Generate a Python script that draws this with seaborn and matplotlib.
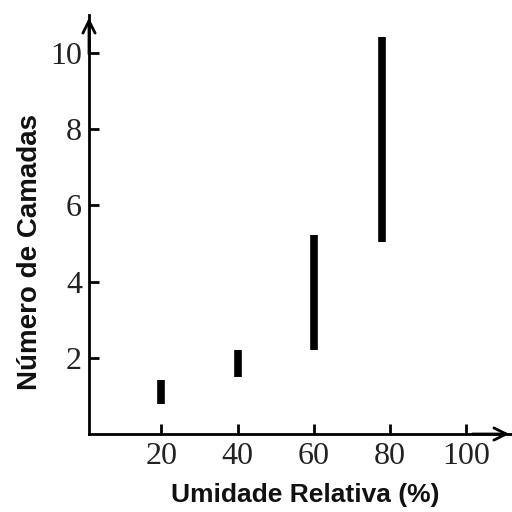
import matplotlib
matplotlib.use("Agg")
import matplotlib.pyplot as plt
import seaborn as sns
import pandas as pd

# Data: vertical range bars (humidity vs number of layers)
humidity = [20, 40, 60, 78]
layers_low = [0.8, 1.5, 2.2, 5.05]
layers_high = [1.42, 2.2, 5.22, 10.42]
x_ticks = [20, 40, 60, 80, 100]
y_ticks = [2, 4, 6, 8, 10]
x_label = "Umidade Relativa (%)"
y_label = "Número de Camadas"

rows = []
for i, (h, lo, hi) in enumerate(zip(humidity, layers_low, layers_high)):
    rows.append({"grp": i, "x": h, "y": lo})
    rows.append({"grp": i, "x": h, "y": hi})
df = pd.DataFrame(rows)

sns.set_theme(style="white")
fig = plt.figure(figsize=(5.12, 5.12), dpi=100)
ax = fig.add_axes([89 / 512, 1 - 434 / 512, (512 - 89) / 512, (434 - 15) / 512])

sns.lineplot(data=df, x="x", y="y", units="grp", estimator=None, color="black",
             linewidth=5.5, solid_capstyle="butt", legend=False, ax=ax, sort=False)

ax.set_xlim(1, 112)
ax.set_ylim(0, 11)
ax.set_xticks(x_ticks)
ax.set_yticks(y_ticks)

for s in ["top", "right"]:
    ax.spines[s].set_visible(False)
for s in ["left", "bottom"]:
    ax.spines[s].set_color("black")
    ax.spines[s].set_linewidth(2)

ax.tick_params(axis="both", direction="in", length=7, width=2, color="black",
               labelsize=23, labelcolor="#222222", bottom=True, left=True)
ax.tick_params(axis="x", pad=6)
ax.tick_params(axis="y", pad=5)
for lab in ax.get_xticklabels() + ax.get_yticklabels():
    lab.set_family("Liberation Serif")

ax.set_xlabel(x_label, fontsize=19, fontweight="bold", family="Liberation Sans",
              color="#111111", va="center")
ax.set_ylabel(y_label, fontsize=20, fontweight="bold", family="Liberation Sans",
              color="#111111", va="center")
ax.xaxis.set_label_coords((305 - 89) / 423, (434 - 495) / 419)
ax.yaxis.set_label_coords((30 - 89) / 423, (434 - 252) / 419)

# axis arrows
ax.annotate("", xy=(0, 1.0), xytext=(0, 0.9), xycoords="axes fraction",
            arrowprops=dict(arrowstyle="->", lw=2, color="black", mutation_scale=22))
ax.annotate("", xy=(1.0, 0), xytext=(0.9, 0), xycoords="axes fraction",
            arrowprops=dict(arrowstyle="->", lw=2, color="black", mutation_scale=22))

fig.savefig("out.png", dpi=100)
